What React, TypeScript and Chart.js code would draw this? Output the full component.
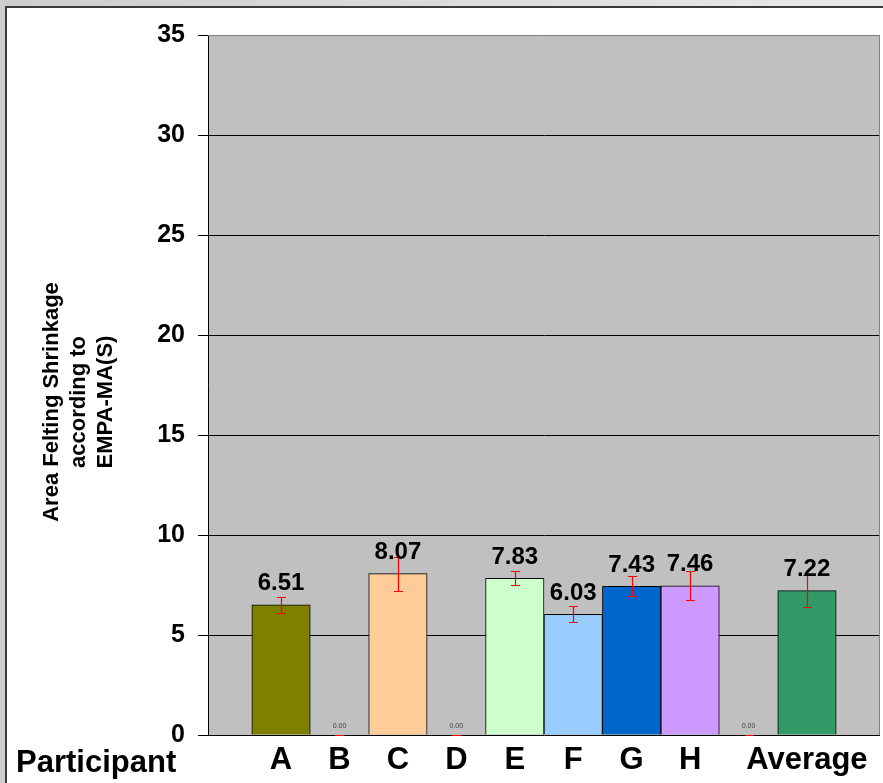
import React, { useEffect, useRef } from "react";
import { Chart, registerables } from "chart.js";

Chart.register(...registerables);

const categories = ["A", "B", "C", "D", "E", "F", "G", "H", "", "Average"];
const values = [6.51, 0, 8.07, 0, 7.83, 6.03, 7.43, 7.46, 0, 7.22];
const errors = [0.4, 0, 0.85, 0, 0.35, 0.4, 0.5, 0.72, 0, 0.8];
const barColors = [
  "#808000", "#C0C0C0", "#FFCC99", "#C0C0C0", "#CCFFCC",
  "#99CCFF", "#0066CC", "#CC99FF", "#C0C0C0", "#339966",
];
const yTicks = [0, 5, 10, 15, 20, 25, 30, 35];
const yTitleLines = ["Area Felting Shrinkage", "according to", "EMPA-MA(S)"];
const xTitle = "Participant";

const FONT = "'Liberation Sans', Arial, sans-serif";

export default function App() {
  const canvasRef = useRef<HTMLCanvasElement | null>(null);

  useEffect(() => {
    const canvas = canvasRef.current;
    if (!canvas) return;

    const bgPlugin = {
      id: "plotBg",
      beforeDraw(chart: any) {
        const { ctx, chartArea } = chart;
        ctx.save();
        ctx.fillStyle = "#C0C0C0";
        ctx.fillRect(chartArea.left, chartArea.top, chartArea.right - chartArea.left, chartArea.bottom - chartArea.top);
        ctx.restore();
      },
      beforeDatasetsDraw(chart: any) {
        const { ctx, chartArea } = chart;
        ctx.save();
        ctx.strokeStyle = "#808080";
        ctx.lineWidth = 1;
        ctx.beginPath();
        ctx.moveTo(chartArea.left, chartArea.top + 0.5);
        ctx.lineTo(chartArea.right - 0.5, chartArea.top + 0.5);
        ctx.lineTo(chartArea.right - 0.5, chartArea.bottom);
        ctx.stroke();
        ctx.restore();
      },
    };

    const overlayPlugin = {
      id: "overlay",
      afterDatasetsDraw(chart: any) {
        const { ctx } = chart;
        const xs = chart.scales.x;
        const ys = chart.scales.y;
        ctx.save();
        // error bars
        values.forEach((v, i) => {
          const x = Math.round(xs.getPixelForValue(i)) + 0.5;
          const yt = Math.round(ys.getPixelForValue(v + errors[i])) + 0.5;
          const yb = Math.round(ys.getPixelForValue(Math.max(0, v - errors[i]))) + 0.5;
          const cap = 4.5;
          ctx.strokeStyle = "#FF0000";
          ctx.lineWidth = 1.2;
          ctx.beginPath();
          ctx.moveTo(x, yt);
          ctx.lineTo(x, yb);
          ctx.moveTo(x - cap, yt);
          ctx.lineTo(x + cap, yt);
          ctx.moveTo(x - cap, yb);
          ctx.lineTo(x + cap, yb);
          ctx.stroke();
        });
        // data labels
        ctx.textAlign = "center";
        ctx.textBaseline = "alphabetic";
        values.forEach((v, i) => {
          const x = xs.getPixelForValue(i);
          if (v > 0) {
            ctx.font = `bold 24px ${FONT}`;
            ctx.fillStyle = "#000000";
            ctx.fillText(v.toFixed(2), x, ys.getPixelForValue(v) - 14.5);
          } else {
            ctx.font = `7px ${FONT}`;
            ctx.fillStyle = "#404040";
            ctx.fillText(v.toFixed(2), x, ys.getPixelForValue(0) - 7);
          }
        });
        ctx.restore();
      },
      afterDraw(chart: any) {
        const { ctx, chartArea } = chart;
        ctx.save();
        ctx.fillStyle = "#000000";
        ctx.font = `bold 31px ${FONT}`;
        ctx.textAlign = "left";
        ctx.textBaseline = "alphabetic";
        ctx.fillText(xTitle, 16, 772);
        ctx.font = `bold 22px ${FONT}`;
        ctx.textAlign = "center";
        const cy = (chartArea.top + chartArea.bottom) / 2 + 17;
        yTitleLines.forEach((line, k) => {
          ctx.save();
          ctx.translate(58 + k * 27, cy);
          ctx.rotate(-Math.PI / 2);
          ctx.fillText(line, 0, 0);
          ctx.restore();
        });
        ctx.restore();
      },
    };

    const chart = new Chart(canvas, {
      type: "bar",
      data: {
        datasets: [
          {
            data: values.map((v, i) => ({ x: i, y: v })),
            backgroundColor: barColors,
            borderColor: "#000000",
            borderWidth: 1,
            categoryPercentage: 1,
            barPercentage: 1,
          },
        ],
      },
      options: {
        responsive: false,
        animation: false,
        events: [],
        layout: { padding: { top: 35, right: 3, left: 0, bottom: 0 } },
        plugins: { legend: { display: false }, tooltip: { enabled: false } },
        scales: {
          x: {
            type: "linear",
            offset: false,
            min: -1.25,
            max: 10.25,
            afterBuildTicks: (scale: any) => {
              scale.ticks = categories.map((_, i) => ({ value: i }));
            },
            afterFit: (scale: any) => {
              scale.height = 48;
            },
            grid: { display: false, drawTicks: false, offset: false },
            border: { display: false },
            ticks: {
              autoSkip: false,
              maxRotation: 0,
              minRotation: 0,
              padding: 7,
              color: "#000000",
              font: { family: FONT, size: 31, weight: "bold" },
              callback: (v: any) => categories[v] ?? "",
            },
          },
          y: {
            min: 0,
            max: 35,
            afterBuildTicks: (scale: any) => {
              scale.ticks = yTicks.map((v) => ({ value: v }));
            },
            afterFit: (scale: any) => {
              scale.width = 208;
            },
            grid: {
              color: (c: any) => (c.tick && c.tick.value === 35 ? "rgba(0,0,0,0)" : "#000000"),
              tickColor: "#000000",
              tickLength: 10,
              lineWidth: 1,
            },
            border: { display: true, color: "#000000", width: 1 },
            ticks: {
              padding: 13,
              color: "#000000",
              font: { family: FONT, size: 25, weight: "bold" },
            },
          },
        },
      } as any,
      plugins: [bgPlugin, overlayPlugin],
    });

    return () => chart.destroy();
  }, []);

  return (
    <div
      style={{
        position: "absolute",
        left: 0,
        top: 0,
        width: 883,
        height: 783,
        overflow: "hidden",
        background: "linear-gradient(to right, #cdcdcd, #e9e9e9)",
      }}
    >
      <div
        style={{
          position: "absolute",
          left: 5,
          top: 6,
          width: 900,
          height: 800,
          background: "#ffffff",
          borderLeft: "2px solid #3a3a3a",
          borderTop: "2px solid #3a3a3a",
        }}
      />
      <canvas
        ref={canvasRef}
        width={883}
        height={783}
        style={{ position: "absolute", left: 0, top: 0, width: 883, height: 783 }}
      />
    </div>
  );
}
